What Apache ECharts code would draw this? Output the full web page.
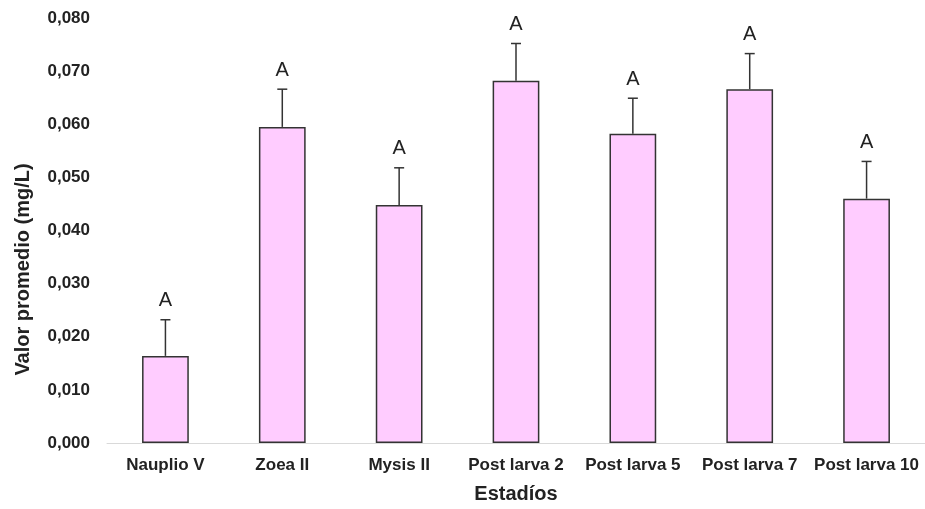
<!DOCTYPE html>
<html>
<head>
<meta charset="utf-8">
<script src="https://cdn.jsdelivr.net/npm/echarts@6/dist/echarts.min.js"></script>
<style>html,body{margin:0;padding:0;background:#fff}#c{width:925px;height:509px}</style>
</head>
<body>
<div id="c"></div>
<script>
const categories = ['Nauplio V','Zoea II','Mysis II','Post larva 2','Post larva 5','Post larva 7','Post larva 10'];
const means = [0.0164, 0.0595, 0.0448, 0.0682, 0.0582, 0.0666, 0.0460];
const errors = [0.0068, 0.0071, 0.0070, 0.0070, 0.0067, 0.0067, 0.0070];
const letters = ['A','A','A','A','A','A','A'];
const yTicks = {min: 0, max: 0.08, interval: 0.01};

const FONT = '"Liberation Sans", Arial, sans-serif';
const chart = echarts.init(document.getElementById('c'));
const errData = categories.map((c, i) => [i, means[i], means[i] + errors[i], letters[i]]);

chart.setOption({
  animation: false,
  grid: {left: 107, right: 0, top: 18, bottom: 65},
  xAxis: {
    type: 'category',
    data: categories,
    name: 'Estadíos',
    nameLocation: 'middle',
    nameGap: 41,
    nameTextStyle: {fontFamily: FONT, fontWeight: 'bold', fontSize: 20, color: '#222'},
    axisLine: {lineStyle: {color: '#d9d9d9', width: 1}},
    axisTick: {show: false},
    axisLabel: {fontFamily: FONT, fontWeight: 'bold', fontSize: 17, color: '#222', margin: 14, interval: 0}
  },
  yAxis: {
    type: 'value',
    min: yTicks.min, max: yTicks.max, interval: yTicks.interval,
    name: 'Valor promedio (mg/L)',
    nameLocation: 'middle',
    nameGap: 74,
    nameTextStyle: {fontFamily: FONT, fontWeight: 'bold', fontSize: 20, color: '#222', padding: [0, 78, 0, 0]},
    axisLine: {show: false},
    axisTick: {show: false},
    splitLine: {show: false},
    axisLabel: {
      fontFamily: FONT, fontWeight: 'bold', fontSize: 17, color: '#222', margin: 17,
      formatter: v => v.toFixed(3).replace('.', ',')
    }
  },
  series: [
    {
      type: 'bar',
      data: means,
      barWidth: '40%',
      itemStyle: {color: '#ffccff', borderColor: '#333', borderWidth: 1.5}
    },
    {
      type: 'custom',
      data: errData,
      z: 5,
      renderItem: function (params, api) {
        const x = api.value(0);
        const p0 = api.coord([x, api.value(1)]);
        const p1 = api.coord([x, api.value(2)]);
        const hw = 5;
        return {
          type: 'group',
          children: [
            {type: 'line', shape: {x1: p0[0], y1: p0[1], x2: p1[0], y2: p1[1]}, style: {stroke: '#333', lineWidth: 1.5}},
            {type: 'line', shape: {x1: p1[0] - hw, y1: p1[1], x2: p1[0] + hw, y2: p1[1]}, style: {stroke: '#333', lineWidth: 1.5}},
            {type: 'text', x: p1[0], y: p1[1] - 19, style: {text: api.value(3), fill: '#222', font: '20px ' + FONT, align: 'center', verticalAlign: 'middle'}}
          ]
        };
      }
    }
  ]
});
</script>
</body>
</html>
